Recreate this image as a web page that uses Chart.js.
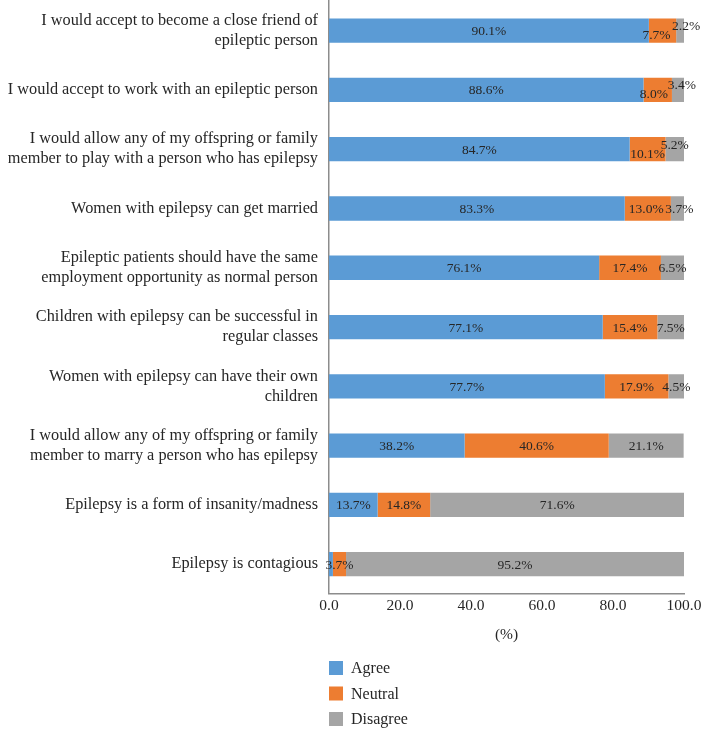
<!DOCTYPE html>
<html>
<head>
<meta charset="utf-8">
<script src="https://cdn.jsdelivr.net/npm/chart.js@4"></script>
<style>
  html, body { margin: 0; padding: 0; background: #fff; }
  #wrap { width: 701px; height: 729px; position: relative; }
</style>
</head>
<body>
<div id="wrap"><canvas id="attitudeChart"></canvas></div>
<script>
// Statements (top to bottom)
const statements = [
    ["I would accept to become a close friend of", "epileptic person"],
    "I would accept to work with an epileptic person",
    ["I would allow any of my offspring or family", "member to play with a person who has epilepsy"],
    "Women with epilepsy can get married",
    ["Epileptic patients should have the same", "employment opportunity as normal person"],
    ["Children with epilepsy can be successful in", "regular classes"],
    ["Women with epilepsy can have their own", "children"],
    ["I would allow any of my offspring or family", "member to marry a person who has epilepsy"],
    "Epilepsy is a form of insanity/madness",
    "Epilepsy is contagious"
];

// Percentages per response
const agree    = [90.1, 88.6, 84.7, 83.3, 76.1, 77.1, 77.7, 38.2, 13.7, 1.1];
const neutral  = [7.7, 8.0, 10.1, 13.0, 17.4, 15.4, 17.9, 40.6, 14.8, 3.7];
const disagree = [2.2, 3.4, 5.2, 3.7, 6.5, 7.5, 4.5, 21.1, 71.6, 95.2];

const seriesNames = ["Agree", "Neutral", "Disagree"];
const xTicks = [0, 20, 40, 60, 80, 100];

const colors = ["#5B9BD5", "#ED7D31", "#A5A5A5"];
const textColor = "#262626";
const fontFamily = "'Liberation Serif', 'DejaVu Serif', serif";

// Draws the % labels on each segment, nudging crowded ones apart like Excel does
const segmentLabels = {
    id: "segmentLabels",
    afterDatasetsDraw(chart) {
        const ctx = chart.ctx;
        ctx.save();
        ctx.font = "13.5px " + fontFamily;
        ctx.fillStyle = textColor;
        ctx.textAlign = "center";
        ctx.textBaseline = "middle";
        const count = chart.data.labels.length;
        for (let i = 0; i < count; i++) {
            const boxes = [];
            chart.data.datasets.forEach((ds, d) => {
                const bar = chart.getDatasetMeta(d).data[i];
                const value = ds.data[i];
                if (value < 2) return;
                const text = value.toFixed(1) + "%";
                const w = ctx.measureText(text).width;
                boxes.push({ text, x: (bar.base + bar.x) / 2, y: bar.y + 1, w });
            });
            // resolve overlap between neighbouring labels
            for (let k = 1; k < boxes.length; k++) {
                const a = boxes[k - 1], b = boxes[k];
                const overlap = (a.x + a.w / 2) - (b.x - b.w / 2);
                if (overlap > 3) {
                    a.y += 4;
                    b.y -= 5;
                    if (overlap > 5) {
                        const push = (overlap - 3) * 0.8;
                        a.x -= push;
                        b.x += push;
                    }
                } else if (overlap > -3) {
                    // just touching: spread them a little on the same line
                    a.x -= 1.5;
                    b.x += 2;
                }
            }
            boxes.forEach(b => ctx.fillText(b.text, b.x, b.y));
        }
        ctx.restore();
    }
};

// Vertical legend under the plot, aligned to the value axis
const sideLegend = {
    id: "sideLegend",
    afterDraw(chart) {
        const ctx = chart.ctx;
        const left = chart.scales.x.left;
        ctx.save();
        ctx.font = "16px " + fontFamily;
        ctx.textBaseline = "middle";
        seriesNames.forEach((name, i) => {
            const cy = 668 + i * 25.5;
            ctx.fillStyle = colors[i];
            ctx.fillRect(left, cy - 7, 14, 14);
            ctx.fillStyle = textColor;
            ctx.fillText(name, left + 22, cy + 1);
        });
        ctx.restore();
    }
};

const series = [agree, neutral, disagree];

new Chart(document.getElementById("attitudeChart"), {
    type: "bar",
    data: {
        labels: statements,
        datasets: seriesNames.map((name, i) => ({
            label: name,
            data: series[i],
            backgroundColor: colors[i],
            borderWidth: 0,
            barPercentage: 0.82,
            categoryPercentage: 0.5
        }))
    },
    options: {
        indexAxis: "y",
        responsive: true,
        maintainAspectRatio: false,
        animation: false,
        layout: { padding: { top: 1, right: 0, bottom: 85, left: 0 } },
        plugins: {
            legend: { display: false },
            tooltip: { enabled: false }
        },
        scales: {
            x: {
                stacked: true,
                min: 0,
                max: 100,
                afterBuildTicks: scale => {
                    scale.ticks = xTicks.map(v => ({ value: v }));
                },
                afterFit: scale => {
                    scale.paddingLeft = 0;
                    scale.paddingRight = 17;
                },
                grid: { display: false, drawTicks: false },
                border: { display: true, color: "#8c8c8c", width: 1.5 },
                ticks: {
                    color: textColor,
                    padding: 3,
                    font: { family: fontFamily, size: 15.5 },
                    callback: value => value.toFixed(1)
                },
                title: {
                    display: true,
                    text: "(%)",
                    color: textColor,
                    padding: { top: 7, bottom: 0 },
                    font: { family: fontFamily, size: 15.5 }
                }
            },
            y: {
                stacked: true,
                grid: { display: false, drawTicks: false },
                border: { display: true, color: "#8c8c8c", width: 1.5 },
                afterFit: scale => {
                    scale.width = 329;
                    scale.paddingTop = 0;
                    scale.paddingBottom = 0;
                },
                ticks: {
                    color: textColor,
                    padding: 11,
                    font: { family: fontFamily, size: 16.3, lineHeight: 1.23 }
                }
            }
        }
    },
    plugins: [segmentLabels, sideLegend]
});
</script>
</body>
</html>
